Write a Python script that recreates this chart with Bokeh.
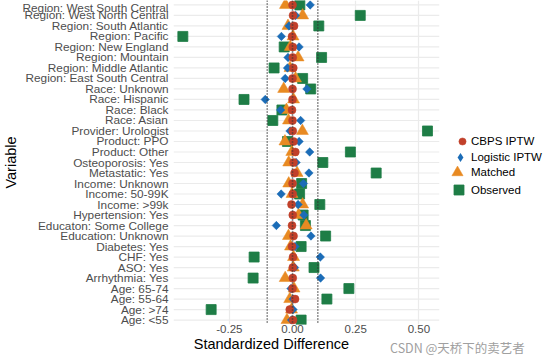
import math
from bokeh.plotting import figure
from bokeh.layouts import column
from bokeh.models import (Range1d, FixedTicker, NumeralTickFormatter, Span, Div,
                          Legend, LegendItem, ColumnDataSource)
from bokeh.embed import file_html
from bokeh.resources import INLINE

# ---- data (listed top to bottom as in the chart) ----
variables = [
    "Region: West South Central", "Region: West North Central", "Region: South Atlantic",
    "Region: Pacific", "Region: New England", "Region: Mountain", "Region: Middle Atlantic",
    "Region: East South Central", "Race: Unknown", "Race: Hispanic", "Race: Black",
    "Race: Asian", "Provider: Urologist", "Product: PPO", "Product: Other",
    "Osteoporosis: Yes", "Metastatic: Yes", "Income: Unknown", "Income: 50-99K",
    "Income: >99k", "Hypertension: Yes", "Educaton: Some College", "Education: Unknown",
    "Diabetes: Yes", "CHF: Yes", "ASO: Yes", "Arrhythmia: Yes", "Age: 65-74",
    "Age: 55-64", "Age: >74", "Age: <55",
]
cbps_iptw = [0.000, 0.002, 0.006, -0.002, 0.001, 0.001, 0.003, 0.000, 0.000, 0.000, -0.002,
             0.000, 0.001, 0.004, 0.011, 0.004, 0.008, 0.000, 0.001, -0.004, 0.001,
             -0.002, 0.004, -0.002, 0.002, 0.001, 0.001, 0.000, 0.010, -0.011, 0.002]
logistic_iptw = [0.070, 0.012, -0.014, -0.044, 0.026, -0.018, -0.020, -0.029, 0.057, -0.108,
                 -0.047, 0.032, -0.010, 0.026, 0.068, 0.014, 0.065, 0.043, -0.045, 0.022,
                 0.045, -0.064, 0.073, 0.010, 0.110, 0.008, 0.111, -0.006, 0.002, 0.002, -0.004]
matched = [-0.028, 0.040, -0.018, 0.002, -0.009, 0.022, -0.010, 0.012, -0.035, 0.004, -0.024,
           -0.016, 0.039, -0.030, -0.003, -0.015, 0.018, -0.015, -0.002, 0.040, 0.024,
           0.054, -0.016, -0.008, 0.004, 0.003, -0.029, 0.006, -0.011, -0.004, -0.022]
observed = [0.029, 0.268, 0.104, -0.434, -0.033, 0.115, -0.073, 0.040, 0.072, -0.192, -0.042,
            -0.078, 0.534, -0.020, 0.229, 0.120, 0.331, 0.036, 0.028, 0.108, 0.042,
            0.051, 0.131, 0.034, -0.152, 0.085, -0.156, 0.223, 0.136, -0.322, 0.034]
x_ticks = [-0.25, 0.0, 0.25, 0.50]
ref_lines = [-0.1, 0.0, 0.1]
series_names = ["CBPS IPTW", "Logistic IPTW", "Matched", "Observed"]

n = len(variables)
ypos = [n - i for i in range(n)]  # top row gets the highest position

X0, X1 = -0.471, 1.005      # full frame (legend lives in the right part)
PANEL_RIGHT = 0.5806        # where the data panel ends

src = ColumnDataSource(dict(y=ypos, cbps=cbps_iptw, logit=logistic_iptw,
                            matched=matched, observed=observed,
                            gx0=[X0] * n, gx1=[PANEL_RIGHT] * n))

RED = "#C1402A"
BLUE = "#1B6CB7"
ORANGE = "#E88A22"
GREEN = "#1E7D46"
FONT = "Liberation Sans"

p = figure(width=546, height=354, output_backend="svg", toolbar_location=None,
           x_range=Range1d(X0, X1), y_range=Range1d(0.58, 31.42),
           min_border_left=160, min_border_right=0, min_border_top=0, min_border_bottom=20)
p.outline_line_color = None
p.background_fill_color = "white"
p.border_fill_color = "white"

# axes
p.xaxis.ticker = FixedTicker(ticks=x_ticks)
p.xaxis.formatter = NumeralTickFormatter(format="0.00")
p.xaxis.axis_line_color = None
p.xaxis.major_tick_line_color = None
p.xaxis.major_tick_out = 0
p.xaxis.major_tick_in = 0
p.xaxis.minor_tick_line_color = None
p.xaxis.major_label_standoff = 0
p.xaxis.major_label_text_font = FONT
p.xaxis.major_label_text_font_size = "11.5px"
p.xaxis.major_label_text_color = "#4D4D4D"
p.xaxis.axis_label = "Standardized Difference" + "\u00a0" * 44
p.xaxis.axis_label_standoff = 0
p.xaxis.axis_label_text_font = FONT
p.xaxis.axis_label_text_font_size = "14.5px"
p.xaxis.axis_label_text_font_style = "normal"
p.xaxis.axis_label_text_color = "black"

p.yaxis.ticker = FixedTicker(ticks=ypos)
p.yaxis.major_label_overrides = {y: v for y, v in zip(ypos, variables)}
p.yaxis.axis_line_color = None
p.yaxis.major_tick_line_color = None
p.yaxis.major_tick_out = 0
p.yaxis.major_tick_in = 0
p.yaxis.minor_tick_line_color = None
p.yaxis.major_label_standoff = 5
p.yaxis.major_label_text_font = FONT
p.yaxis.major_label_text_font_size = "11.8px"
p.yaxis.major_label_text_color = "#4D4D4D"
p.yaxis.axis_label = "Variable"
p.yaxis.axis_label_standoff = 0
p.yaxis.axis_label_text_font = FONT
p.yaxis.axis_label_text_font_size = "14.5px"
p.yaxis.axis_label_text_font_style = "normal"
p.yaxis.axis_label_text_color = "black"

p.xgrid.ticker = FixedTicker(ticks=x_ticks)
p.xgrid.grid_line_color = "#EBEBEB"
p.xgrid.grid_line_width = 1.2
p.ygrid.grid_line_color = None

# horizontal grid lines, ending where the data panel ends
p.segment(x0="gx0", x1="gx1", y0="y", y1="y", source=src,
          line_color="#EBEBEB", line_width=1.2)

# marks
r_obs = p.scatter(x="observed", y="y", source=src, marker="square", size=10,
                  fill_color=GREEN, line_color=GREEN, line_width=0.8)
r_match = p.scatter(x="matched", y="y", source=src, marker="triangle", size=12,
                    fill_color=ORANGE, line_color=ORANGE, line_width=0.5)
# diamond key glyph (hidden under the rotated squares, used for the legend key)
r_logit_key = p.scatter(x="logit", y="y", source=src, marker="diamond", size=8,
                        fill_color=BLUE, line_color=BLUE, line_width=0)
r_logit = p.scatter(x="logit", y="y", source=src, marker="square", size=6,
                    angle=math.pi / 4, fill_color=BLUE, line_color=BLUE, line_width=0.5)
r_cbps = p.scatter(x="cbps", y="y", source=src, marker="circle", size=8,
                   fill_color=RED, line_color=RED, line_width=0.5)

for v in ref_lines:
    p.add_layout(Span(location=v, dimension="height", line_color="#333333",
                      line_width=1.6, line_dash="1 2"))

# one single-entry legend per series, so each key can have its own size
legend_specs = [  # renderer, label, key box, (x, y) offset from the frame
    (r_cbps, series_names[0], 18, (280, 174)),
    (r_logit_key, series_names[1], 22, (276, 156)),
    (r_match, series_names[2], 28, (270, 138)),
    (r_obs, series_names[3], 25, (273, 122)),
]
for rend, lab, box, loc in legend_specs:
    p.add_layout(Legend(items=[LegendItem(label=lab, renderers=[rend])],
                        location=loc, orientation="vertical",
                        glyph_width=box, glyph_height=box, label_height=box, spacing=0,
                        padding=0, margin=0, label_standoff=0,
                        border_line_color=None, background_fill_alpha=0,
                        label_text_font=FONT, label_text_font_size="11.5px",
                        label_text_color="black"))

watermark = Div(text='<span style="position:relative;top:2px">CSDN @天桥下的卖艺者</span>',
                width=146, height=18, margin=(-18, 0, 0, 390),
                styles={"font-family": "Noto Sans CJK SC", "font-size": "12.5px",
                        "color": "#A0A0A0", "white-space": "nowrap", "line-height": "20px"})

layout = column(p, watermark, spacing=0)
open("out.html", "w").write(file_html(layout, INLINE))
